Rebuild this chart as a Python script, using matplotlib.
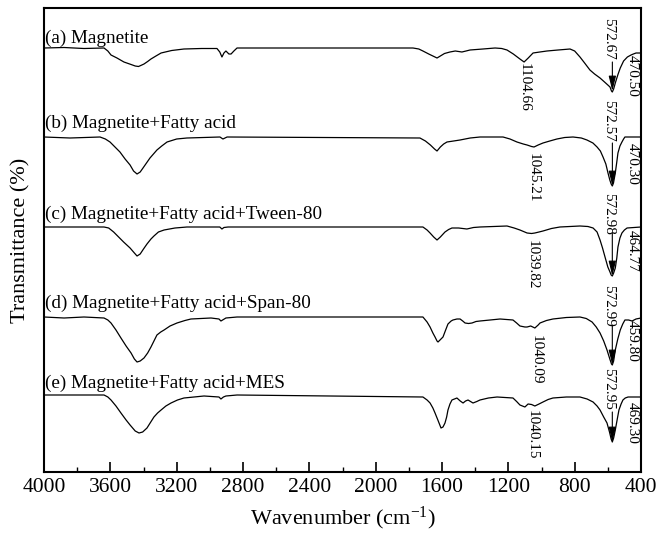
import matplotlib
matplotlib.use("Agg")
import matplotlib.pyplot as plt
from matplotlib.ticker import MultipleLocator

plt.rcParams['font.family'] = ['Liberation Serif', 'DejaVu Serif']
plt.rcParams['mathtext.fontset'] = 'custom'
plt.rcParams['mathtext.rm'] = 'Liberation Serif'
plt.rcParams['mathtext.it'] = 'Liberation Serif:italic'

# ---------------- data (wavenumber, stacked transmittance, arbitrary offset units) ----------------
wn_a = [4000, 3879, 3759, 3638, 3615, 3596, 3560, 3518, 3475, 3450, 3430, 3410, 3397, 3375, 3355,
        3325, 3294, 3230, 3156, 3050, 2957, 2940, 2927, 2915, 2903, 2885, 2872, 2855, 2836, 1775,
        1740, 1715, 1680, 1655, 1630, 1610, 1585, 1552, 1520, 1480, 1455, 1431, 1353, 1280, 1240,
        1208, 1170, 1130, 1105, 1080, 1051, 1010, 967, 900, 828, 800, 768, 740, 708, 680,
        647, 620, 600, 587, 578, 573, 565, 555, 540, 525, 505, 482, 460, 446, 430, 400]
t_a = [424, 424.5, 423.5, 424, 421, 417, 414, 410, 407.5, 406, 405.5, 407, 408, 410.5, 413,
       416, 419, 421.5, 423, 423.5, 423.5, 420, 415, 419, 421, 418, 418, 421, 424, 424,
       423, 421, 418, 416, 414, 416, 418.5, 420, 421, 420, 421, 422, 423, 424, 423.5,
       422, 418, 413, 410, 414, 419, 420, 421, 422, 423, 421, 415, 409, 402, 398,
       394, 390, 387, 385, 381, 380, 383, 389, 397, 404, 411, 415, 417, 418, 419, 419]

wn_b = [4000, 3843, 3662, 3630, 3602, 3572, 3542, 3511, 3481, 3460, 3439, 3420, 3403, 3382, 3361,
        3340, 3319, 3290, 3258, 3200, 3138, 2939, 2921, 2896, 1733, 1700, 1670, 1645, 1630, 1610,
        1590, 1570, 1530, 1491, 1430, 1371, 1232, 1190, 1148, 1110, 1087, 1060, 1045, 1020, 991,
        950, 907, 860, 810, 760, 726, 690, 665, 645, 629, 612, 599, 588, 580, 573,
        566, 555, 546, 539, 527, 515, 505, 497, 400]
t_b = [335, 334, 335, 333, 330, 325, 320, 313, 307, 301, 298, 300, 304, 309, 314,
       318, 322, 326, 330, 333, 334, 335, 333, 335, 334, 331, 327, 323, 321, 325,
       328, 330, 331, 332, 334, 335, 335, 333, 330, 328, 327, 325.5, 325, 327, 329,
       331, 333, 334.5, 335, 334, 332, 329, 325, 321, 315, 308, 299, 292, 288, 286,
       289, 299, 310, 319, 326, 330, 333, 335, 335]

wn_c = [4000, 3638, 3610, 3580, 3550, 3520, 3481, 3455, 3439, 3420, 3400, 3379, 3355, 3337, 3310,
        3276, 3210, 3138, 2940, 2927, 2915, 2890, 1715, 1690, 1672, 1650, 1630, 1610, 1582, 1560,
        1540, 1500, 1450, 1410, 1371, 1208, 1165, 1130, 1087, 1060, 1040, 1015, 991, 940, 889,
        768, 720, 689, 665, 647, 632, 617, 600, 587, 580, 573, 565, 555, 546, 539,
        527, 515, 500, 484, 400]
t_c = [245, 245, 244, 240, 235, 230, 224, 219, 216, 218, 223, 228, 233, 236, 240,
       242, 244, 245, 245, 243, 244.5, 245, 245, 242, 239, 235, 232, 235, 240, 242.5,
       244, 244, 243, 244.5, 245, 246, 244, 242, 239, 238.5, 239, 240, 241, 243.5, 245,
       246, 245.5, 244, 240, 232, 224, 215, 205, 200, 197, 196, 199, 204, 214, 225,
       234, 239, 242, 244, 245]

wn_d = [4000, 3879, 3759, 3638, 3615, 3596, 3566, 3536, 3505, 3475, 3455, 3439, 3420, 3397, 3375,
        3355, 3337, 3319, 3296, 3276, 3240, 3198, 3150, 3114, 2993, 2945, 2933, 2918, 2903, 2836,
        1715, 1690, 1672, 1655, 1642, 1630, 1624, 1612, 1594, 1578, 1564, 1545, 1534, 1510, 1491,
        1475, 1461, 1440, 1419, 1395, 1371, 1310, 1250, 1172, 1150, 1130, 1100, 1087, 1065, 1040,
        1020, 1009, 970, 931, 850, 768, 730, 695, 670, 647, 625, 605, 588, 578, 573,
        565, 555, 540, 525, 510, 497, 475, 454, 430, 400]
t_d = [155, 154, 155, 154, 152, 149, 142, 134, 126, 119, 113, 110, 111, 114, 119,
       125, 131, 137, 140, 142, 146, 149, 151.5, 153, 154, 153, 151, 152.5, 154, 155,
       155, 150, 145, 139, 135, 131, 130, 132, 135, 142, 148, 151, 152, 153, 153,
       151, 149, 148.5, 149, 150.5, 151, 152, 153, 152, 149, 146, 145, 145, 146, 144,
       147, 149, 151.5, 153, 154.5, 155, 153.5, 150, 145, 139, 131, 122, 113, 108, 107,
       111, 122, 133, 142, 148, 152, 152, 151, 153, 154]

wn_e = [4000, 3638, 3615, 3596, 3566, 3536, 3505, 3481, 3450, 3427, 3405, 3379, 3360, 3337, 3315,
        3294, 3265, 3234, 3195, 3156, 3035, 2945, 2933, 2918, 2903, 2836, 1715, 1690, 1672, 1655,
        1642, 1625, 1606, 1594, 1582, 1572, 1564, 1552, 1540, 1510, 1490, 1473, 1458, 1443, 1428,
        1413, 1390, 1371, 1320, 1268, 1220, 1172, 1150, 1130, 1100, 1081, 1060, 1040, 1015, 991,
        960, 931, 850, 768, 725, 689, 665, 647, 625, 605, 590, 580, 573, 565, 555,
        543, 533, 520, 509, 495, 478, 400]
t_e = [77, 77, 75, 72, 66, 59, 52, 47, 41, 39, 40, 44, 49, 55, 59,
       62, 66, 69, 72, 74, 76, 75, 73, 75, 76, 77, 75, 72, 69, 64,
       59, 52, 44, 45, 49, 55, 62, 68, 72, 74, 71, 69, 71, 72, 70.5,
       69, 70.5, 72, 74, 75, 74.5, 74, 70.5, 67, 65, 68, 67.5, 66, 68, 70,
       72.5, 74, 75, 75, 73, 70, 66, 62, 55, 49, 40, 33, 30, 34, 42,
       53, 62, 68, 72, 74, 75, 75]

sample_labels = ['(a) Magnetite', '(b) Magnetite+Fatty acid',
                 '(c) Magnetite+Fatty acid+Tween-80', '(d) Magnetite+Fatty acid+Span-80',
                 '(e) Magnetite+Fatty acid+MES']
peak_fe_o = ['572.67', '572.57', '572.98', '572.99', '572.95']
peak_low = ['470.50', '470.30', '464.77', '459.80', '469.30']
peak_mid = ['1104.66', '1045.21', '1039.82', '1040.09', '1040.15']

x_ticks = [4000, 3600, 3200, 2800, 2400, 2000, 1600, 1200, 800, 400]

# ---------------- layout ----------------
W, H = 660, 533
fig = plt.figure(figsize=(W / 100, H / 100), dpi=100)
ax = fig.add_axes([44 / W, 61 / H, 597 / W, 464 / H])

series = [(wn_a, t_a), (wn_b, t_b), (wn_c, t_c), (wn_d, t_d), (wn_e, t_e)]
for wn, t in series:
    ax.plot(wn, t, color='black', lw=0.9, solid_joinstyle='round')

ax.set_xlim(4000, 400)
ax.set_ylim(0, 464)

# sample names (bottom of text box just above each trace)
label_y = [425, 340, 249, 160, 80]
for s, y in zip(sample_labels, label_y):
    ax.text(3995, y, s, fontsize=13.8, ha='left', va='bottom')

# 572 peak labels with arrows
fe_top = [454, 372, 279, 187, 104]
fe_arrow_from = [410, 329, 239, 147, 60]
fe_arrow_to = [381, 286, 196, 107, 30]
for s, yt, y0, y1 in zip(peak_fe_o, fe_top, fe_arrow_from, fe_arrow_to):
    v = float(s)
    ax.text(v + 22, yt, s, rotation=270, fontsize=11, ha='center', va='top')
    ax.annotate('', xy=(v, y1), xytext=(v, y0),
                arrowprops=dict(arrowstyle='-|>,head_length=0.9,head_width=0.22',
                                color='black', lw=0.8, shrinkA=0, shrinkB=0))

low_top = [417, 329, 242, 152, 70]
for s, yt in zip(peak_low, low_top):
    ax.text(452, yt, s, rotation=270, fontsize=11, ha='center', va='top')

mid_top = [409, 319, 232, 137, 62]
mid_x = [1106, 1051, 1057, 1033, 1057]
for s, yt, xm in zip(peak_mid, mid_top, mid_x):
    ax.text(xm, yt, s, rotation=270, fontsize=11, ha='center', va='top')

# axes styling
ax.set_xticks(x_ticks)
ax.set_xticklabels([str(v) for v in x_ticks])
ax.xaxis.set_minor_locator(MultipleLocator(200))
ax.set_yticks([])
ax.tick_params(axis='x', which='major', direction='in', length=7, width=1.2,
               labelsize=15.5, pad=4, top=False)
ax.tick_params(axis='x', which='minor', direction='in', length=3.5, width=1.0, top=False)
for sp in ax.spines.values():
    sp.set_linewidth(1.5)

ax.set_xlabel(r'Wavenumber (cm$^{\mathregular{-1}}$)', fontsize=16, labelpad=6)
ax.set_ylabel('Transmittance (%)', fontsize=16, labelpad=10)

fig.savefig('out.png', dpi=100)
